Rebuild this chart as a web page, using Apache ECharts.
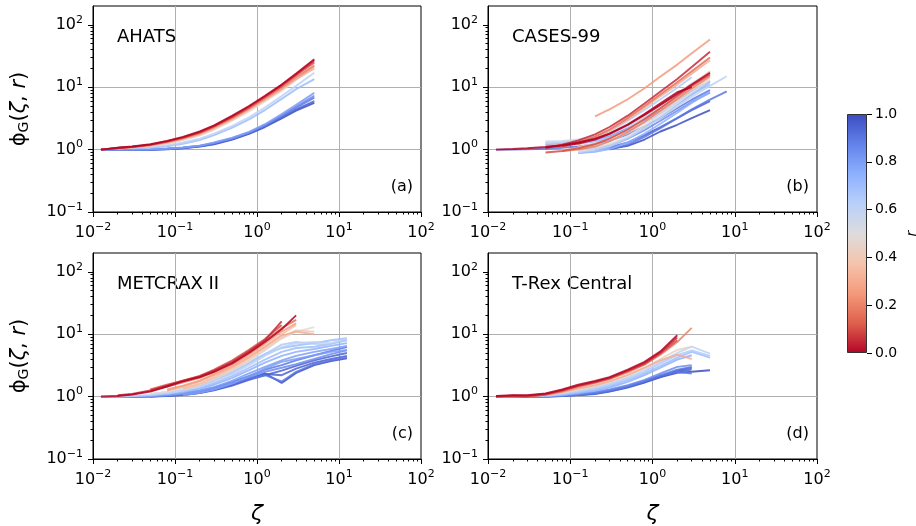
<!DOCTYPE html>
<html>
<head>
<meta charset="utf-8">
<script src="https://cdn.jsdelivr.net/npm/echarts@6/dist/echarts.min.js"></script>
<style>
  html, body { margin: 0; padding: 0; background: #fff; }
  #chart { width: 916px; height: 526px; }
</style>
</head>
<body>
<div id="chart"></div>
<script>
const FONT = 'DejaVu Sans';
const n = null;

// ---- AHATS ----
const ahatsZeta = [0.0125, 0.02, 0.03, 0.05, 0.08, 0.125, 0.2, 0.3, 0.5, 0.8, 1.25, 2, 3, 5];
const ahatsR = [1.0, 0.95, 0.9, 0.85, 0.8, 0.7, 0.6, 0.5, 0.4, 0.3, 0.2, 0.1, 0.05, 0.0];
const ahatsPhi = [
  [1.0, 0.99, 0.98, 0.99, 1.01, 1.05, 1.12, 1.22, 1.45, 1.78, 2.3, 3.15, 4.2, 5.6],
  [1.0, 0.99, 0.98, 0.99, 1.02, 1.06, 1.13, 1.24, 1.47, 1.82, 2.36, 3.3, 4.4, 6.0],
  [1.0, 0.99, 0.99, 1.0, 1.03, 1.07, 1.14, 1.26, 1.5, 1.85, 2.42, 3.45, 4.7, 6.8],
  [1.0, 1.0, 1.0, 1.01, 1.03, 1.07, 1.15, 1.28, 1.52, 1.88, 2.48, 3.55, 4.9, 7.3],
  [1.0, 1.0, 1.0, 1.01, 1.04, 1.08, 1.16, 1.3, 1.55, 1.92, 2.55, 3.7, 5.2, 8.1],
  [n, n, 1.05, 1.07, 1.13, 1.24, 1.42, 1.7, 2.25, 3.05, 4.3, 6.5, 9.3, 13.5],
  [n, 1.1, 1.1, 1.12, 1.18, 1.3, 1.5, 1.8, 2.4, 3.3, 4.7, 7.2, 10.5, 17],
  [n, 1.04, 1.08, 1.14, 1.25, 1.42, 1.68, 2.08, 2.9, 4.1, 5.9, 8.8, 13, 22],
  [n, n, 1.08, 1.15, 1.27, 1.45, 1.72, 2.15, 3.0, 4.3, 6.2, 9.2, 13.8, 23],
  [n, 1.05, 1.09, 1.17, 1.3, 1.5, 1.78, 2.22, 3.1, 4.4, 6.3, 9.3, 13.5, 20],
  [1.0, 1.05, 1.1, 1.18, 1.32, 1.52, 1.82, 2.28, 3.2, 4.55, 6.6, 9.8, 14.5, 22],
  [1.0, 1.06, 1.1, 1.19, 1.34, 1.55, 1.87, 2.35, 3.3, 4.7, 6.9, 10.4, 15.5, 25],
  [1.0, 1.06, 1.11, 1.2, 1.36, 1.57, 1.9, 2.4, 3.4, 4.9, 7.1, 10.8, 16, 27],
  [1.0, 1.07, 1.12, 1.22, 1.38, 1.6, 1.95, 2.45, 3.5, 5.0, 7.3, 11, 16.5, 28]
];

// ---- CASES-99 ----
const casesZeta = [0.0125, 0.02, 0.03, 0.05, 0.08, 0.125, 0.2, 0.3, 0.5, 0.8, 1.25, 2, 3, 5, 8];
const casesR = [1.0, 0.95, 0.9, 0.9, 0.85, 0.8, 0.75, 0.7, 0.7, 0.65, 0.6, 0.6, 0.55, 0.5,
                0.45, 0.4, 0.35, 0.3, 0.25, 0.2, 0.15, 0.1, 0.05, 0.0, 0.0];
const casesPhi = [
  [n, n, n, n, n, n, n, 1.02, 1.15, 1.45, 1.95, 2.5, 3.2, 4.3, n],
  [n, n, n, n, n, n, 1.0, 1.08, 1.3, 1.7, 2.3, 3.2, 4.3, 6.0, n],
  [n, n, n, n, n, n, n, 1.0, 1.2, 1.6, 2.2, 3.2, 4.4, 6.3, 8.6],
  [1.0, 1.0, 1.01, 1.03, 1.07, 1.12, 1.22, 1.38, 1.75, 2.35, 3.2, 4.6, 6.3, 9.0, n],
  [n, n, n, n, n, 1.0, 1.05, 1.18, 1.5, 2.05, 2.9, 4.2, 5.8, 8.2, n],
  [n, n, n, 1.2, 1.25, 1.3, 1.42, 1.65, 2.2, 3.0, 4.2, 6.2, 8.7, 12.5, n],
  [n, n, n, n, n, 0.88, 0.92, 1.02, 1.3, 1.8, 2.6, 3.9, 5.6, 8.5, n],
  [n, n, n, n, n, 0.88, 0.95, 1.1, 1.5, 2.2, 3.3, 5.2, 7.6, 12, n],
  [n, n, n, n, 1.2, 1.25, 1.35, 1.55, 2.0, 2.7, 3.8, 5.6, 7.8, 11, n],
  [n, n, n, 1.25, 1.3, 1.4, 1.6, 2.0, 2.9, 4.3, 6.4, 9.8, 14.4, n, n],
  [n, n, n, n, n, 0.9, 1.0, 1.15, 1.55, 2.2, 3.2, 4.9, 7.0, 10.5, 15],
  [n, n, n, 1.3, 1.32, 1.38, 1.5, 1.75, 2.35, 3.3, 4.7, 7.0, 10, n, n],
  [n, n, n, 1.35, 1.38, 1.45, 1.6, 1.9, 2.6, 3.7, 5.3, 8.0, 11.5, 17, n],
  [n, n, n, n, n, 0.95, 1.05, 1.22, 1.65, 2.4, 3.6, 5.6, 8.2, 13, n],
  [n, n, n, n, 1.0, 1.05, 1.15, 1.35, 1.85, 2.7, 4.0, 6.2, 9, 14, n],
  [n, n, n, n, n, 1.1, 1.25, 1.5, 2.1, 3.1, 4.6, 7, 10.5, 16, n],
  [n, n, n, 1.15, 1.2, 1.3, 1.48, 1.8, 2.5, 3.6, 5.2, 7.8, 11, 18, n],
  [n, n, n, n, n, 1.2, 1.5, 2.0, 3.0, 4.7, 7.2, 11, 16.5, 27, n],
  [n, n, n, n, n, n, 3.4, 4.4, 6.4, 9.6, 14.8, 23, 35, 58, n],
  [n, n, n, n, 0.95, 1.0, 1.12, 1.35, 1.9, 2.8, 4.2, 6.5, 9.5, 15, n],
  [n, n, n, n, 1.1, 1.3, 1.62, 2.1, 3.2, 5.0, 7.7, 12, 18, 30, n],
  [n, n, n, 0.9, 0.95, 1.05, 1.22, 1.5, 2.1, 3.1, 4.6, 7.2, 10.5, 16, n],
  [n, n, n, 1.05, 1.2, 1.4, 1.75, 2.3, 3.5, 5.5, 8.5, 13.5, 21, 37, n],
  [1.0, 1.02, 1.05, 1.1, 1.18, 1.3, 1.5, 1.8, 2.5, 3.6, 5.2, 7.8, 11, 17, n],
  [n, n, n, 1.1, 1.15, 1.25, 1.45, 1.78, 2.5, 3.7, 5.5, 8.3, 10, n, n]
];

// ---- METCRAX II ----
const metZeta = [0.0125, 0.02, 0.03, 0.05, 0.08, 0.125, 0.2, 0.3, 0.5, 0.8, 1.25, 2, 3, 5, 8, 12.5];
const metR = [1.0, 0.95, 0.95, 0.9, 0.9, 0.85, 0.8, 0.8, 0.75, 0.7, 0.7, 0.65, 0.6,
              0.5, 0.4, 0.35, 0.3, 0.25, 0.15, 0.1, 0.05, 0.0];
const metPhi = [
  [1.0, 1.0, 1.0, 1.01, 1.03, 1.07, 1.15, 1.28, 1.55, 1.9, 2.35, 1.65, 2.4, 3.2, 3.7, 4.1],
  [0.98, 0.98, 0.99, 1.0, 1.03, 1.08, 1.17, 1.3, 1.57, 1.92, 2.3, 2.2, 2.8, 3.5, 4.0, 4.5],
  [n, n, n, 1.0, 1.02, 1.06, 1.14, 1.26, 1.5, 1.85, 2.2, 2.6, 3.1, 3.8, 4.4, 5.0],
  [n, 1.0, 1.0, 1.01, 1.04, 1.09, 1.18, 1.32, 1.6, 1.95, 2.2, 1.75, 2.5, 3.3, 3.8, 4.3],
  [n, n, n, 1.05, 1.08, 1.13, 1.24, 1.4, 1.72, 2.15, 2.7, 3.2, 3.8, 4.6, 5.4, 6.2],
  [1.0, 1.0, 1.0, 1.02, 1.05, 1.1, 1.2, 1.35, 1.65, 2.05, 2.5, 2.9, 3.3, 4.0, 4.8, 5.5],
  [n, n, n, 1.02, 1.06, 1.12, 1.24, 1.42, 1.8, 2.35, 3.0, 3.8, 4.5, 5.2, 5.8, 6.5],
  [n, n, n, n, n, 1.05, 1.15, 1.3, 1.62, 2.1, 2.8, 3.6, 4.0, 4.6, 5.2, 5.6],
  [1.0, 1.0, 1.01, 1.04, 1.1, 1.18, 1.33, 1.55, 2.0, 2.65, 3.5, 4.5, 5.2, 5.8, 6.5, 7.2],
  [n, n, n, n, 1.1, 1.2, 1.38, 1.65, 2.15, 2.9, 3.9, 5.2, 6.0, 6.3, 7.0, 8.0],
  [n, n, n, n, n, 1.3, 1.5, 1.85, 2.5, 3.5, 4.8, 6.0, 6.6, 7.2, 8.0, 8.6],
  [n, n, n, 1.1, 1.18, 1.3, 1.5, 1.8, 2.4, 3.4, 4.8, 6.8, 7.5, 7.0, 6.8, n],
  [1.0, 1.0, 1.02, 1.06, 1.13, 1.25, 1.45, 1.75, 2.3, 3.2, 4.5, 6.2, 7.2, 7.5, 7.2, 8.5],
  [n, n, n, 1.1, 1.2, 1.35, 1.55, 1.9, 2.6, 3.7, 5.5, 8.5, 11, 13, n, n],
  [n, n, n, n, n, 1.3, 1.55, 1.95, 2.7, 3.9, 5.8, 8.8, 11.5, 11, n, n],
  [n, n, n, n, n, 1.35, 1.62, 2.05, 2.9, 4.2, 6.3, 10, 14, n, n, n],
  [n, n, n, n, 1.25, 1.45, 1.75, 2.2, 3.0, 4.3, 6.3, 9.5, 11, 10, n, n],
  [n, n, n, n, 1.3, 1.5, 1.8, 2.3, 3.2, 4.7, 7.0, 11, 15, n, n, n],
  [n, n, n, 1.25, 1.45, 1.7, 2.0, 2.5, 3.5, 5.2, 7.8, 12.5, 17, n, n, n],
  [n, n, n, 1.3, 1.55, 1.8, 2.15, 2.7, 3.8, 5.6, 8.4, 14, n, n, n, n],
  [n, 1.05, 1.1, 1.25, 1.5, 1.8, 2.1, 2.6, 3.6, 5.3, 8.0, 16, n, n, n, n],
  [1.0, 1.02, 1.08, 1.2, 1.45, 1.75, 2.05, 2.5, 3.4, 5.0, 7.5, 12, 20, n, n, n]
];

// ---- T-Rex Central ----
const trexZeta = [0.0125, 0.02, 0.03, 0.05, 0.08, 0.125, 0.2, 0.3, 0.5, 0.8, 1.25, 2, 3, 5];
const trexR = [1.0, 0.95, 0.95, 0.9, 0.9, 0.85, 0.75, 0.7, 0.65, 0.6, 0.45, 0.3, 0.2, 0.1, 0.05, 0.0];
const trexPhi = [
  [1.0, 0.99, 0.99, 1.0, 1.02, 1.06, 1.12, 1.22, 1.42, 1.7, 2.05, 2.4, 2.5, 2.65],
  [1.0, 0.99, 0.99, 1.0, 1.03, 1.07, 1.14, 1.25, 1.45, 1.73, 2.1, 2.5, 2.7, n],
  [n, n, n, n, n, 1.05, 1.1, 1.2, 1.4, 1.68, 2.05, 2.6, 2.9, n],
  [1.0, 1.0, 1.0, 1.01, 1.04, 1.08, 1.16, 1.27, 1.48, 1.78, 2.2, 2.7, 3.0, n],
  [n, n, n, 1.0, 1.02, 1.06, 1.13, 1.24, 1.45, 1.76, 2.15, 2.5, 2.35, n],
  [1.0, 1.0, 1.0, 1.02, 1.05, 1.1, 1.18, 1.3, 1.52, 1.85, 2.35, 3.0, 3.2, n],
  [n, n, n, 1.02, 1.06, 1.13, 1.24, 1.4, 1.72, 2.2, 2.9, 3.9, 4.6, n],
  [n, n, 1.0, 1.03, 1.08, 1.17, 1.3, 1.48, 1.83, 2.35, 3.1, 4.2, 5.2, 4.2],
  [n, n, n, 1.04, 1.1, 1.2, 1.35, 1.55, 1.93, 2.5, 3.4, 4.6, 5.5, 4.5],
  [1.0, 1.0, 1.01, 1.05, 1.13, 1.25, 1.42, 1.63, 2.03, 2.65, 3.6, 5.0, 6.3, 4.9],
  [n, n, 1.0, 1.06, 1.16, 1.3, 1.48, 1.72, 2.17, 2.9, 4.0, 5.6, 6.3, n],
  [n, n, n, 1.06, 1.18, 1.34, 1.52, 1.76, 2.23, 2.9, 3.8, 4.7, 4.0, n],
  [0.98, 1.0, 1.02, 1.07, 1.2, 1.42, 1.64, 1.9, 2.45, 3.25, 4.7, 7.5, 12.6, n],
  [1.0, 1.02, 0.98, 1.08, 1.24, 1.47, 1.7, 1.95, 2.55, 3.3, 4.9, 8.0, n, n],
  [1.0, 1.04, 1.03, 1.1, 1.27, 1.5, 1.73, 2.0, 2.6, 3.45, 5.1, 8.8, n, n],
  [1.02, 1.05, 1.05, 1.12, 1.3, 1.55, 1.78, 2.05, 2.7, 3.6, 5.3, 9.6, n, n]
];

const siteNames = ['AHATS', 'CASES-99', 'METCRAX II', 'T-Rex Central'];
const panelTags = ['(a)', '(b)', '(c)', '(d)'];
const sites = [
  { zeta: ahatsZeta, r: ahatsR, phi: ahatsPhi },
  { zeta: casesZeta, r: casesR, phi: casesPhi },
  { zeta: metZeta, r: metR, phi: metPhi },
  { zeta: trexZeta, r: trexR, phi: trexPhi }
];

// axis ticks
const xMajorTicks = [0.01, 0.1, 1, 10, 100];
const yMajorTicks = [0.1, 1, 10, 100];
function minorTicks(lo, hi) {
  const out = [];
  for (let d = lo; d < hi; d *= 10) {
    for (let k = 2; k <= 9; k++) {
      const v = +(d * k).toPrecision(3);
      if (v < hi) out.push(v);
    }
  }
  return out;
}
const xMinorTicks = minorTicks(0.01, 100);
const yMinorTicks = minorTicks(0.1, 200);

// reversed coolwarm: r = 0 -> red, r = 1 -> blue
const coolwarmStops = [
  [59, 76, 192], [98, 130, 234], [141, 176, 254], [184, 208, 249], [221, 220, 220],
  [245, 196, 172], [244, 154, 123], [222, 96, 77], [180, 4, 38]
];
function coolwarm(t) {
  t = Math.min(1, Math.max(0, t));
  const p = t * (coolwarmStops.length - 1);
  const i = Math.min(Math.floor(p), coolwarmStops.length - 2);
  const f = p - i;
  const a = coolwarmStops[i], b = coolwarmStops[i + 1];
  const c = [0, 1, 2].map(k => Math.round(a[k] + (b[k] - a[k]) * f));
  return `rgb(${c[0]},${c[1]},${c[2]})`;
}
const rColor = r => coolwarm(1 - r);

const panels = [
  { left: 93, top: 6, width: 328, height: 206 },
  { left: 488, top: 6, width: 329, height: 206 },
  { left: 93, top: 253, width: 328, height: 206 },
  { left: 488, top: 253, width: 329, height: 206 }
];

function powLabel(v) {
  const e = Math.round(Math.log10(v));
  return '{b|10}{s|' + (e < 0 ? '\u2212' + (-e) : e) + '}';
}
const powRich = {
  b: { fontSize: 16, fontFamily: FONT, color: '#000' },
  s: { fontSize: 11, fontFamily: FONT, color: '#000', padding: [0, 0, 10, 0] }
};
const tickLine = { color: '#000', width: 1 };

const grids = [], xAxes = [], yAxes = [], series = [], graphics = [];

panels.forEach((p, i) => {
  grids.push({ left: p.left, top: p.top, width: p.width, height: p.height,
    show: true, borderColor: '#000', borderWidth: 1, backgroundColor: 'transparent',
    containLabel: false, outerBoundsMode: 'none' });
  const bottomRow = i >= 2, leftCol = i % 2 === 0;

  xAxes.push({
    type: 'log', logBase: 10, gridIndex: i, min: 0.01, max: 100, position: 'bottom',
    axisLine: { show: true, onZero: false, lineStyle: tickLine },
    axisTick: { show: true, length: 5, lineStyle: tickLine, customValues: xMajorTicks },
    axisLabel: { show: true, margin: 10, customValues: xMajorTicks, formatter: powLabel, rich: powRich,
      showMinLabel: true, showMaxLabel: true, hideOverlap: false },
    splitLine: { show: true, showMinLine: false, showMaxLine: false, lineStyle: { color: '#b0b0b0', width: 1 } },
    name: bottomRow ? 'ζ' : '', nameLocation: 'middle', nameGap: 44,
    nameTextStyle: { fontFamily: FONT, fontStyle: 'italic', fontSize: 22, color: '#000' }
  });
  xAxes.push({
    type: 'log', logBase: 10, gridIndex: i, min: 0.01, max: 100, position: 'bottom', offset: 0,
    axisLine: { show: false },
    axisTick: { show: true, length: 2.5, lineStyle: tickLine, customValues: xMinorTicks },
    axisLabel: { show: false }, splitLine: { show: false }
  });
  yAxes.push({
    type: 'log', logBase: 10, gridIndex: i, min: 0.1, max: 200, position: 'left',
    axisLine: { show: true, onZero: false, lineStyle: tickLine },
    axisTick: { show: true, length: 5, lineStyle: tickLine, customValues: yMajorTicks },
    axisLabel: { show: true, margin: 10, customValues: yMajorTicks, formatter: powLabel, rich: powRich,
      showMinLabel: true, showMaxLabel: true, hideOverlap: false },
    splitLine: { show: true, showMinLine: false, showMaxLine: false, lineStyle: { color: '#b0b0b0', width: 1 } },
    name: leftCol ? '{p|ϕ}{g|G}{p|(}{i|ζ}{p|, }{i|r}{p|)}' : '',
    nameLocation: 'middle', nameRotate: 90, nameGap: 62,
    nameTextStyle: { fontFamily: FONT, fontSize: 21, color: '#000', rich: {
      p: { fontFamily: FONT, fontSize: 21, color: '#000' },
      i: { fontFamily: FONT, fontSize: 21, fontStyle: 'italic', color: '#000' },
      g: { fontFamily: FONT, fontSize: 14, color: '#000', padding: [9, 0, 0, 0] }
    } }
  });
  yAxes.push({
    type: 'log', logBase: 10, gridIndex: i, min: 0.1, max: 200, position: 'left', offset: 0,
    axisLine: { show: false },
    axisTick: { show: true, length: 2.5, lineStyle: tickLine, customValues: yMinorTicks },
    axisLabel: { show: false }, splitLine: { show: false }
  });

  const s = sites[i];
  s.phi.forEach((row, k) => {
    const data = [];
    row.forEach((v, j) => { if (v !== null) data.push([s.zeta[j], v]); });
    series.push({
      type: 'line', xAxisIndex: 2 * i, yAxisIndex: 2 * i, data,
      symbol: 'none', showSymbol: false, smooth: false, silent: true, animation: false,
      lineStyle: { color: rColor(s.r[k]), width: 1.9, opacity: 0.85 }
    });
  });

  graphics.push({ type: 'text', x: p.left + 24, y: p.top + 31,
    style: { text: siteNames[i], font: '18px "DejaVu Sans"', fill: '#000', align: 'left', verticalAlign: 'middle' } });
  graphics.push({ type: 'text', x: p.left + p.width - 8, y: p.top + p.height - 25,
    style: { text: panelTags[i], font: '16px "DejaVu Sans"', fill: '#000', align: 'right', verticalAlign: 'middle' } });
});

// colour bar
const cbarTicks = 0.2;
grids.push({ left: 847, top: 114, width: 20, height: 239, show: false, containLabel: false, outerBoundsMode: 'none' });
xAxes.push({ type: 'category', gridIndex: 4, data: ['r'], show: false });
yAxes.push({
  type: 'value', gridIndex: 4, min: 0, max: 1, interval: cbarTicks, position: 'right',
  axisLine: { show: false },
  axisTick: { show: true, length: 5, lineStyle: tickLine },
  axisLabel: { margin: 8, fontFamily: FONT, fontSize: 14, color: '#000', formatter: v => v.toFixed(1) },
  splitLine: { show: false },
  name: 'r', nameLocation: 'middle', nameRotate: 90, nameGap: 38,
  nameTextStyle: { fontFamily: FONT, fontStyle: 'italic', fontSize: 14, color: '#000' }
});
const cbarStops = [];
for (let k = 0; k <= 16; k++) cbarStops.push({ offset: k / 16, color: rColor(1 - k / 16) });
series.push({
  type: 'bar', xAxisIndex: 8, yAxisIndex: 8, data: [1], barWidth: '100%', silent: true,
  itemStyle: { color: new echarts.graphic.LinearGradient(0, 0, 0, 1, cbarStops), borderColor: '#333', borderWidth: 1 }
});

const chart = echarts.init(document.getElementById('chart'), null, { renderer: 'canvas' });
chart.setOption({
  animation: false,
  backgroundColor: '#fff',
  textStyle: { fontFamily: FONT },
  grid: grids, xAxis: xAxes, yAxis: yAxes, series, graphic: graphics
});
</script>
</body>
</html>
